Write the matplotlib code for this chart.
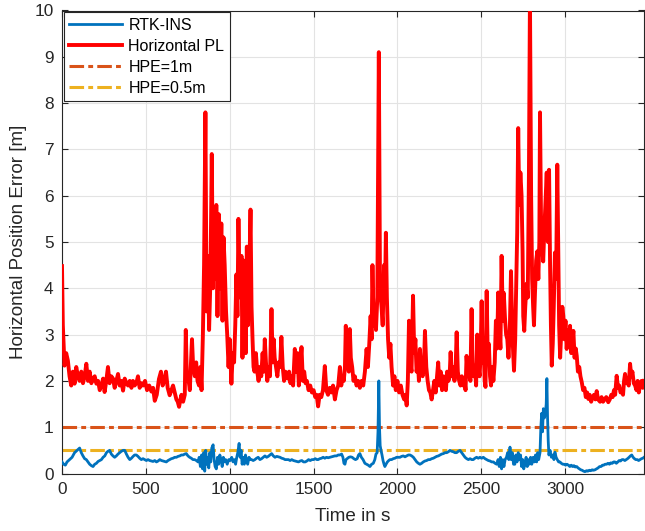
import matplotlib
matplotlib.use('Agg')
import matplotlib.pyplot as plt

# Horizontal protection level (red)
pl_t = [0, 5, 10, 15, 25, 35, 45, 55, 65, 75, 85, 95, 105, 115, 125, 135, 145, 155, 165, 175,
        185, 195, 205, 215, 225, 235, 245, 254, 264, 274, 284, 294, 304, 314, 324, 334, 344, 354, 364, 374,
        384, 394, 404, 414, 423, 433, 443, 453, 463, 473, 483, 495, 507, 520, 533, 543, 553, 565, 578, 590,
        600, 610, 620, 630, 642, 652, 662, 672, 682, 690, 698, 706, 712, 722, 732, 738, 745, 752, 762, 770,
        775, 782, 792, 800, 808, 817, 825, 832, 840, 847, 855, 862, 870, 877, 885, 893, 900, 907, 915, 920,
        927, 935, 942, 950, 957, 963, 970, 978, 985, 993, 1000, 1010, 1018, 1026, 1033, 1040, 1046, 1052, 1058, 1064,
        1070, 1076, 1083, 1090, 1096, 1102, 1108, 1116, 1124, 1130, 1136, 1142, 1148, 1156, 1164, 1172, 1180, 1188, 1196, 1203,
        1209, 1216, 1224, 1232, 1240, 1249, 1256, 1262, 1268, 1276, 1284, 1292, 1300, 1308, 1316, 1324, 1332, 1340, 1346, 1354,
        1362, 1370, 1378, 1388, 1396, 1404, 1412, 1420, 1428, 1436, 1444, 1452, 1460, 1470, 1480, 1490, 1500, 1510, 1518, 1527,
        1536, 1546, 1556, 1567, 1576, 1586, 1596, 1606, 1616, 1627, 1637, 1647, 1657, 1665, 1673, 1680, 1687, 1692, 1698, 1704,
        1710, 1716, 1722, 1730, 1738, 1746, 1756, 1766, 1776, 1786, 1796, 1806, 1816, 1824, 1832, 1840, 1846, 1851, 1858, 1865,
        1872, 1880, 1889, 1896, 1905, 1912, 1920, 1926, 1931, 1937, 1944, 1951, 1958, 1965, 1974, 1982, 1990, 2000, 2010, 2020,
        2030, 2040, 2048, 2055, 2062, 2069, 2076, 2084, 2093, 2100, 2107, 2114, 2122, 2128, 2134, 2142, 2150, 2158, 2164, 2172,
        2180, 2188, 2196, 2204, 2212, 2220, 2228, 2236, 2243, 2250, 2258, 2266, 2274, 2282, 2289, 2296, 2304, 2311, 2317, 2324,
        2332, 2340, 2347, 2353, 2360, 2368, 2376, 2384, 2392, 2400, 2406, 2412, 2420, 2428, 2435, 2442, 2448, 2455, 2462, 2469,
        2476, 2483, 2490, 2496, 2502, 2508, 2515, 2520, 2525, 2532, 2538, 2545, 2552, 2558, 2565, 2572, 2580, 2587, 2594, 2601,
        2608, 2614, 2621, 2628, 2634, 2641, 2648, 2655, 2662, 2670, 2677, 2684, 2690, 2695, 2702, 2708, 2714, 2720, 2726, 2733,
        2740, 2746, 2750, 2756, 2762, 2770, 2777, 2784, 2790, 2797, 2803, 2809, 2814, 2820, 2827, 2834, 2840, 2846, 2850, 2856,
        2862, 2869, 2875, 2882, 2890, 2897, 2904, 2910, 2915, 2920, 2926, 2932, 2939, 2946, 2953, 2959, 2964, 2970, 2976, 2983,
        2989, 2995, 3002, 3009, 3016, 3023, 3029, 3036, 3042, 3049, 3056, 3063, 3069, 3076, 3084, 3091, 3099, 3107, 3115, 3123,
        3131, 3138, 3146, 3155, 3163, 3172, 3180, 3188, 3196, 3208, 3217, 3226, 3235, 3245, 3257, 3266, 3275, 3283, 3291, 3298,
        3307, 3315, 3322, 3330, 3337, 3345, 3351, 3357, 3364, 3371, 3379, 3387, 3394, 3401, 3409, 3417, 3425, 3432, 3439, 3446,
        3455, 3463, 3470]
pl_v = [4.48, 3.2, 2.76, 2.33, 2.6, 2.44, 2.1, 1.9, 2.2, 1.94, 2.3, 2.1, 2.0, 2.2, 1.95, 2.1, 2.37, 2.0, 2.2, 1.95,
        2.05, 2.1, 1.94, 2.0, 1.8, 1.9, 2.05, 1.76, 2.0, 2.3, 1.95, 2.1, 2.05, 1.85, 2.0, 2.15, 1.9, 2.0, 1.79, 2.05,
        1.95, 1.9, 2.0, 1.85, 2.0, 1.9, 1.95, 2.1, 1.85, 1.95, 1.9, 2.0, 1.8, 1.9, 1.77, 1.85, 1.57, 1.7, 2.04, 2.2,
        1.9, 2.0, 2.2, 1.85, 1.69, 1.8, 1.9, 1.75, 1.6, 1.55, 1.44, 1.6, 1.7, 1.55, 1.7, 3.1, 2.0, 2.1, 1.8, 2.5,
        2.9, 2.3, 2.1, 2.4, 2.0, 1.9, 2.3, 1.8, 3.0, 4.5, 7.8, 3.5, 4.7, 3.1, 4.2, 6.9, 4.0, 5.4, 4.2, 5.8,
        3.4, 5.6, 4.0, 5.4, 3.3, 5.1, 4.5, 3.5, 3.0, 2.3, 2.9, 1.94, 2.6, 2.4, 3.2, 4.3, 3.4, 5.5, 4.1, 3.8,
        4.7, 2.5, 4.6, 3.6, 2.6, 4.9, 3.2, 4.2, 5.7, 3.6, 2.9, 2.3, 2.2, 2.6, 2.2, 2.0, 2.3, 2.1, 2.6, 2.2,
        2.9, 2.4, 2.0, 2.3, 2.1, 3.55, 2.4, 2.9, 2.5, 2.3, 2.1, 2.4, 2.3, 2.95, 2.3, 2.0, 2.2, 2.1, 2.05, 2.2,
        1.95, 2.1, 1.9, 2.69, 2.2, 2.6, 1.9, 2.3, 2.73, 2.0, 2.2, 1.95, 2.0, 1.8, 1.9, 1.75, 1.8, 1.65, 1.7, 1.45,
        1.7, 1.65, 1.8, 2.32, 1.8, 1.7, 1.85, 1.75, 1.9, 1.6, 1.8, 1.9, 2.3, 1.9, 2.1, 2.0, 2.3, 3.19, 2.4, 2.6,
        2.2, 3.12, 2.5, 2.3, 2.0, 2.1, 1.9, 2.0, 1.85, 2.0, 1.9, 2.2, 2.69, 2.3, 2.8, 3.4, 2.9, 4.5, 3.2, 3.6,
        3.1, 3.8, 9.1, 4.0, 3.6, 3.2, 4.5, 3.9, 5.2, 3.8, 2.9, 2.5, 2.8, 2.3, 1.9, 2.1, 1.8, 2.0, 1.75, 1.9,
        1.7, 1.6, 1.7, 1.47, 2.0, 3.3, 2.4, 2.2, 3.84, 2.6, 2.9, 2.2, 2.4, 2.0, 2.69, 2.2, 2.1, 2.3, 3.08, 2.3,
        2.0, 1.8, 1.75, 1.6, 1.8, 2.0, 1.75, 2.1, 2.4, 1.9, 2.2, 1.8, 2.1, 1.9, 1.8, 2.2, 2.0, 2.1, 2.62, 2.1,
        2.3, 2.0, 2.3, 3.05, 2.2, 2.0, 1.9, 2.1, 1.9, 2.0, 1.8, 2.54, 2.1, 2.2, 2.0, 3.55, 2.4, 2.1, 2.3, 1.9,
        3.0, 2.3, 2.1, 2.6, 3.72, 2.4, 2.6, 2.0, 1.87, 3.94, 2.6, 2.8, 2.1, 1.9, 2.3, 2.0, 2.4, 3.3, 2.7, 3.91,
        3.1, 2.7, 4.7, 3.3, 3.9, 3.37, 3.0, 2.9, 2.5, 3.1, 4.37, 3.2, 2.6, 2.22, 2.9, 4.1, 5.2, 7.46, 5.8, 6.5,
        6.0, 4.8, 3.4, 3.08, 3.6, 4.1, 3.8, 6.5, 10.3, 6.0, 4.2, 3.6, 3.2, 3.9, 4.6, 4.8, 4.2, 5.0, 7.8, 5.5,
        5.0, 4.58, 5.2, 5.8, 6.5, 5.0, 6.56, 4.5, 3.2, 2.33, 2.8, 3.6, 4.77, 4.2, 6.67, 4.8, 3.2, 2.5, 3.0, 3.6,
        3.4, 2.9, 3.3, 2.69, 3.1, 2.8, 3.19, 2.6, 2.8, 3.08, 2.5, 2.7, 2.54, 2.2, 2.3, 2.1, 1.97, 1.8, 1.85, 1.65,
        1.75, 1.61, 1.7, 1.55, 1.65, 1.7, 1.6, 1.78, 1.6, 1.55, 1.65, 1.55, 1.6, 1.65, 1.54, 1.6, 1.7, 1.65, 1.8, 1.7,
        2.11, 1.85, 1.9, 1.75, 1.8, 1.7, 2.0, 2.15, 1.95, 2.0, 1.9, 2.37, 2.1, 2.2, 1.95, 1.9, 1.8, 2.0, 1.75, 1.9,
        2.0, 1.85, 2.0]

# RTK-INS horizontal position error (blue)
rtk_t = [0, 10, 20, 30, 45, 60, 75, 90, 105, 115, 125, 135, 145, 155, 165, 175, 185, 195, 205, 215,
         225, 235, 245, 255, 265, 274, 284, 294, 304, 314, 324, 334, 344, 354, 364, 374, 384, 394, 404, 414,
         424, 433, 443, 453, 463, 473, 483, 493, 503, 513, 523, 533, 543, 553, 563, 573, 583, 593, 603, 613,
         622, 632, 642, 652, 662, 672, 682, 692, 702, 712, 722, 732, 741, 751, 761, 771, 781, 791, 801, 811,
         818, 825, 832, 838, 845, 851, 857, 863, 869, 875, 881, 887, 893, 901, 907, 913, 920, 927, 934, 941,
         948, 955, 962, 969, 976, 985, 994, 1003, 1012, 1020, 1028, 1035, 1042, 1048, 1056, 1062, 1068, 1074, 1080, 1087,
         1094, 1100, 1107, 1115, 1122, 1130, 1140, 1150, 1160, 1170, 1180, 1190, 1200, 1210, 1220, 1230, 1240, 1250, 1260, 1270,
         1280, 1290, 1300, 1310, 1320, 1330, 1340, 1350, 1360, 1370, 1380, 1390, 1400, 1410, 1420, 1430, 1440, 1450, 1460, 1470,
         1480, 1490, 1500, 1510, 1520, 1527, 1537, 1547, 1557, 1567, 1577, 1587, 1597, 1607, 1617, 1627, 1637, 1647, 1657, 1667,
         1675, 1681, 1687, 1693, 1700, 1710, 1720, 1730, 1740, 1750, 1760, 1768, 1776, 1785, 1795, 1806, 1816, 1826, 1836, 1846,
         1856, 1865, 1872, 1879, 1884, 1889, 1893, 1897, 1902, 1908, 1914, 1920, 1925, 1932, 1940, 1948, 1955, 1965, 1975, 1985,
         1995, 2005, 2015, 2025, 2035, 2045, 2055, 2065, 2075, 2085, 2095, 2105, 2115, 2125, 2134, 2144, 2154, 2164, 2174, 2184,
         2194, 2204, 2214, 2224, 2234, 2244, 2254, 2264, 2274, 2284, 2294, 2304, 2313, 2323, 2333, 2343, 2353, 2363, 2373, 2383,
         2393, 2403, 2413, 2423, 2433, 2443, 2452, 2462, 2472, 2482, 2492, 2502, 2512, 2522, 2532, 2542, 2552, 2562, 2572, 2582,
         2592, 2600, 2607, 2614, 2621, 2628, 2635, 2642, 2650, 2657, 2664, 2671, 2678, 2685, 2692, 2700, 2706, 2713, 2720, 2727,
         2734, 2740, 2747, 2753, 2760, 2767, 2774, 2780, 2787, 2794, 2801, 2809, 2816, 2823, 2830, 2836, 2842, 2850, 2855, 2860,
         2865, 2870, 2876, 2882, 2887, 2891, 2895, 2899, 2903, 2910, 2918, 2926, 2933, 2939, 2946, 2953, 2961, 2969, 2977, 2986,
         2994, 3003, 3011, 3019, 3028, 3036, 3044, 3052, 3060, 3069, 3077, 3085, 3093, 3101, 3110, 3118, 3127, 3135, 3144, 3152,
         3161, 3169, 3178, 3187, 3196, 3205, 3214, 3222, 3230, 3238, 3247, 3255, 3264, 3272, 3281, 3289, 3297, 3305, 3314, 3322,
         3330, 3339, 3347, 3356, 3364, 3372, 3381, 3389, 3397, 3405, 3413, 3421, 3430, 3438, 3446, 3455, 3463, 3470]
rtk_v = [0.25, 0.2, 0.18, 0.25, 0.3, 0.35, 0.45, 0.5, 0.55, 0.45, 0.38, 0.32, 0.3, 0.25, 0.2, 0.17, 0.15, 0.2, 0.22, 0.26,
         0.28, 0.3, 0.35, 0.38, 0.45, 0.48, 0.5, 0.42, 0.38, 0.35, 0.38, 0.42, 0.45, 0.48, 0.5, 0.5, 0.42, 0.35, 0.3, 0.33,
         0.37, 0.4, 0.4, 0.37, 0.33, 0.3, 0.32, 0.3, 0.28, 0.3, 0.28, 0.27, 0.26, 0.28, 0.25, 0.27, 0.3, 0.28, 0.27, 0.26,
         0.25, 0.28, 0.3, 0.32, 0.33, 0.35, 0.35, 0.37, 0.38, 0.4, 0.4, 0.42, 0.43, 0.38, 0.35, 0.33, 0.3, 0.3, 0.28, 0.25,
         0.35, 0.15, 0.4, 0.1, 0.45, 0.05, 0.5, 0.2, 0.35, 0.12, 0.45, 0.25, 0.55, 0.62, 0.3, 0.15, 0.1, 0.35, 0.2, 0.4,
         0.3, 0.15, 0.35, 0.25, 0.3, 0.2, 0.3, 0.28, 0.35, 0.25, 0.3, 0.2, 0.35, 0.45, 0.65, 0.35, 0.5, 0.2, 0.35, 0.2,
         0.4, 0.3, 0.2, 0.35, 0.3, 0.3, 0.28, 0.3, 0.33, 0.35, 0.3, 0.32, 0.35, 0.38, 0.35, 0.37, 0.4, 0.43, 0.38, 0.35,
         0.37, 0.36, 0.35, 0.33, 0.32, 0.3, 0.3, 0.3, 0.28, 0.3, 0.28, 0.27, 0.26, 0.25, 0.27, 0.28, 0.25, 0.25, 0.27, 0.3,
         0.28, 0.3, 0.3, 0.32, 0.3, 0.3, 0.32, 0.33, 0.35, 0.33, 0.35, 0.34, 0.35, 0.36, 0.37, 0.38, 0.38, 0.4, 0.4, 0.42,
         0.35, 0.22, 0.2, 0.3, 0.32, 0.35, 0.36, 0.35, 0.32, 0.3, 0.32, 0.4, 0.43, 0.35, 0.3, 0.22, 0.2, 0.18, 0.15, 0.2,
         0.22, 0.3, 0.42, 0.45, 0.9, 2.0, 1.0, 0.6, 0.5, 0.4, 0.28, 0.2, 0.15, 0.2, 0.25, 0.28, 0.3, 0.3, 0.32, 0.33,
         0.35, 0.35, 0.35, 0.37, 0.38, 0.36, 0.38, 0.4, 0.4, 0.38, 0.35, 0.3, 0.25, 0.22, 0.2, 0.22, 0.25, 0.27, 0.28, 0.3,
         0.3, 0.32, 0.33, 0.35, 0.37, 0.38, 0.4, 0.42, 0.43, 0.45, 0.45, 0.47, 0.5, 0.48, 0.47, 0.45, 0.45, 0.48, 0.5, 0.45,
         0.4, 0.35, 0.32, 0.3, 0.32, 0.3, 0.3, 0.33, 0.35, 0.33, 0.35, 0.33, 0.35, 0.32, 0.3, 0.28, 0.27, 0.25, 0.25, 0.22,
         0.2, 0.3, 0.15, 0.35, 0.1, 0.3, 0.15, 0.3, 0.35, 0.45, 0.3, 0.57, 0.3, 0.45, 0.2, 0.2, 0.4, 0.25, 0.45, 0.3,
         0.4, 0.15, 0.3, 0.1, 0.2, 0.35, 0.15, 0.3, 0.2, 0.35, 0.2, 0.35, 0.25, 0.4, 0.25, 0.45, 0.3, 0.45, 1.0, 1.3,
         0.9, 1.4, 1.2, 1.3, 1.5, 2.05, 1.2, 0.7, 0.4, 0.5, 0.35, 0.4, 0.3, 0.46, 0.35, 0.3, 0.25, 0.25, 0.22, 0.2,
         0.2, 0.18, 0.2, 0.18, 0.15, 0.18, 0.15, 0.17, 0.14, 0.15, 0.12, 0.1, 0.08, 0.07, 0.05, 0.04, 0.06, 0.05, 0.07, 0.06,
         0.08, 0.07, 0.08, 0.1, 0.12, 0.15, 0.15, 0.18, 0.18, 0.2, 0.2, 0.22, 0.2, 0.23, 0.22, 0.25, 0.25, 0.22, 0.25, 0.28,
         0.27, 0.3, 0.3, 0.28, 0.3, 0.32, 0.35, 0.38, 0.4, 0.35, 0.32, 0.3, 0.3, 0.28, 0.3, 0.32, 0.33, 0.35]

hpe_levels = [1.0, 0.5]
hpe_labels = ['HPE=1m', 'HPE=0.5m']

BLUE = '#0072BD'
RED = '#FF0000'
ORANGE = '#D95319'
YELLOW = '#EDB120'
AXCOL = '#262626'

plt.rcParams['font.family'] = ['Liberation Sans', 'DejaVu Sans']
plt.rcParams['lines.scale_dashes'] = False

fig = plt.figure(figsize=(6.45, 5.31), dpi=100)
ax = fig.add_axes([62 / 645, (531 - 473.5) / 531, (644 - 62) / 645, (473.5 - 10.5) / 531])

ax.plot(rtk_t, rtk_v, color=BLUE, linewidth=2.0, label='RTK-INS', zorder=4)
ax.plot(pl_t, pl_v, color=RED, linewidth=2.8, label='Horizontal PL', zorder=3)
dashdot = [10.5, 3.0, 3.5, 3.0]
ax.plot([0, 3470], [hpe_levels[0]] * 2, color=ORANGE, linewidth=2.2, dashes=dashdot,
        label=hpe_labels[0], zorder=2)
ax.plot([0, 3470], [hpe_levels[1]] * 2, color=YELLOW, linewidth=2.2, dashes=dashdot,
        label=hpe_labels[1], zorder=2)

ax.set_xlim(0, 3470)
ax.set_ylim(0, 10)
ax.set_xticks(range(0, 3001, 500))
ax.set_yticks(range(0, 11))
ax.grid(True, color='#e3e3e3', linewidth=0.8)
ax.set_axisbelow(True)

for s in ax.spines.values():
    s.set_color(AXCOL)
    s.set_linewidth(0.8)
ax.tick_params(direction='in', length=4, width=0.8, colors=AXCOL, labelsize=12.4,
               top=True, right=True, pad=6)

ax.set_xlabel('Time in s', fontsize=13.6, color=AXCOL, labelpad=8)
ax.set_ylabel('Horizontal Position Error [m]', fontsize=13.6, color=AXCOL, labelpad=5)

leg = ax.legend(loc='upper left', fontsize=11.5, handlelength=3.3, handletextpad=0.4,
                labelspacing=0.38, borderaxespad=0.1, borderpad=0.35, fancybox=False,
                framealpha=1, edgecolor=AXCOL)
leg.get_frame().set_linewidth(0.8)

fig.savefig('out.png', dpi=100)
